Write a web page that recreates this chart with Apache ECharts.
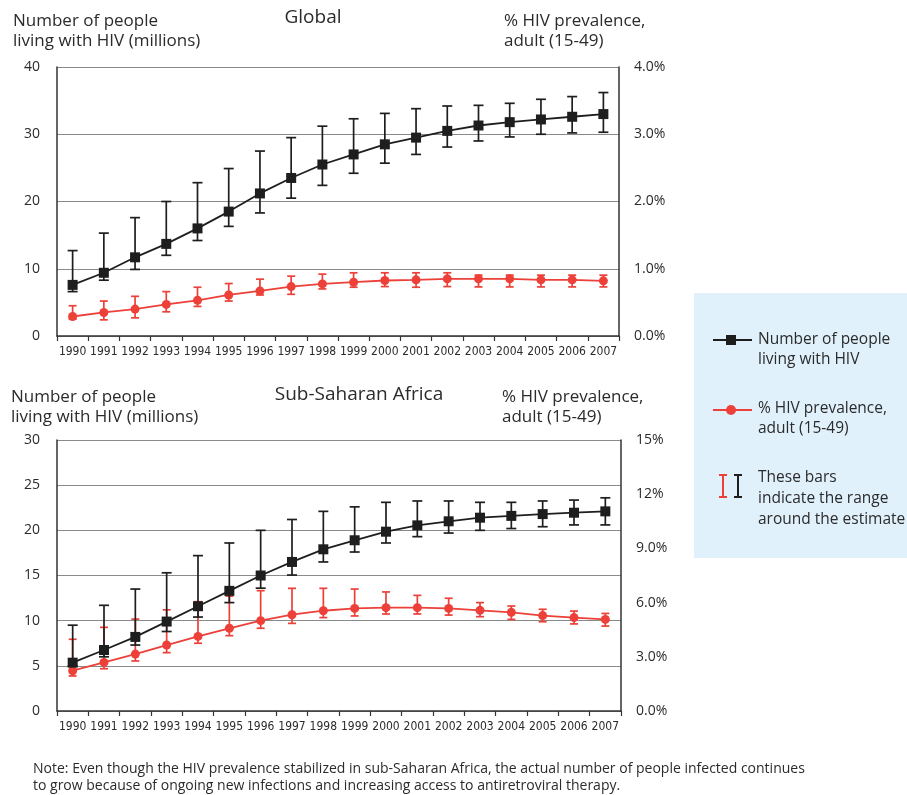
<!DOCTYPE html>
<html>
<head>
<meta charset="utf-8">
<title>People living with HIV 1990-2007</title>
<script src="https://cdn.jsdelivr.net/npm/echarts@6/dist/echarts.min.js"></script>
<style>
  html, body { margin: 0; padding: 0; background: #fff; }
  #chart { width: 907px; height: 795px; }
</style>
</head>
<body>
<div id="chart"></div>
<script>
const years = ['1990', '1991', '1992', '1993', '1994', '1995', '1996', '1997', '1998',
  '1999', '2000', '2001', '2002', '2003', '2004', '2005', '2006', '2007']

// Global: people living with HIV (millions) and range
const globalPeople = [7.6, 9.4, 11.7, 13.7, 16.0, 18.5, 21.2, 23.5, 25.5, 27.0, 28.5, 29.5, 30.5, 31.3, 31.8, 32.2, 32.6, 33.0]
const globalPeopleLow = [6.6, 8.3, 9.9, 12.0, 14.2, 16.3, 18.3, 20.5, 22.4, 24.2, 25.7, 27.0, 28.1, 29.0, 29.6, 30.0, 30.2, 30.3]
const globalPeopleHigh = [12.7, 15.3, 17.6, 20.0, 22.8, 24.9, 27.5, 29.5, 31.2, 32.3, 33.1, 33.8, 34.2, 34.3, 34.6, 35.2, 35.6, 36.2]

// Global: adult prevalence (%) and range
const globalPrev = [0.29, 0.35, 0.40, 0.47, 0.53, 0.61, 0.67, 0.735, 0.775, 0.80, 0.825, 0.835, 0.85, 0.85, 0.85, 0.835, 0.835, 0.82]
const globalPrevLow = [0.25, 0.24, 0.27, 0.36, 0.44, 0.52, 0.61, 0.62, 0.70, 0.725, 0.735, 0.725, 0.735, 0.73, 0.73, 0.73, 0.73, 0.73]
const globalPrevHigh = [0.45, 0.52, 0.59, 0.66, 0.725, 0.78, 0.845, 0.89, 0.92, 0.94, 0.94, 0.94, 0.94, 0.905, 0.905, 0.905, 0.905, 0.905]

// Sub-Saharan Africa: people living with HIV (millions) and range
const ssaPeople = [5.35, 6.75, 8.2, 9.9, 11.6, 13.3, 15.0, 16.5, 17.9, 18.9, 19.85, 20.55, 21.0, 21.4, 21.6, 21.8, 21.95, 22.1]
const ssaPeopleLow = [5.0, 6.0, 7.3, 8.8, 10.4, 12.0, 13.6, 15.05, 16.5, 17.6, 18.6, 19.3, 19.7, 20.0, 20.2, 20.4, 20.6, 20.6]
const ssaPeopleHigh = [9.5, 11.7, 13.5, 15.3, 17.2, 18.6, 20.0, 21.2, 22.1, 22.6, 23.1, 23.25, 23.25, 23.1, 23.1, 23.25, 23.35, 23.6]

// Sub-Saharan Africa: adult prevalence (%) and range
const ssaPrev = [2.23, 2.69, 3.15, 3.65, 4.13, 4.58, 5.0, 5.33, 5.55, 5.68, 5.72, 5.72, 5.68, 5.57, 5.46, 5.28, 5.17, 5.07]
const ssaPrevLow = [1.94, 2.34, 2.77, 3.23, 3.75, 4.17, 4.58, 4.85, 5.17, 5.26, 5.37, 5.37, 5.31, 5.22, 5.07, 4.94, 4.82, 4.7]
const ssaPrevHigh = [3.97, 4.63, 5.09, 5.6, 6.05, 6.36, 6.66, 6.79, 6.79, 6.75, 6.59, 6.4, 6.24, 6.0, 5.81, 5.63, 5.53, 5.4]

const BLACK = '#1e1e1e'
const RED = '#ec4038'
const TEXT = '#2b2b2b'
const FONT = '"Open Sans", "Noto Sans", sans-serif'
const NARROW = '"DejaVu Sans Condensed", sans-serif'

function xAxisFor(gridIndex) {
  return {
    type: 'category',
    gridIndex,
    data: years,
    boundaryGap: true,
    axisLine: { lineStyle: { color: '#333', width: 1.5 } },
    axisTick: { show: true, interval: 0, length: 5, lineStyle: { color: '#333', width: 1.2 } },
    axisLabel: { interval: 0, color: TEXT, fontFamily: NARROW, fontSize: 12, margin: 10 }
  }
}

function leftAxis(gridIndex, max, interval) {
  return {
    type: 'value',
    gridIndex,
    min: 0,
    max,
    interval,
    axisLine: { show: true, lineStyle: { color: '#333', width: 1.5 } },
    axisTick: { show: false },
    axisLabel: { color: TEXT, fontFamily: FONT, fontSize: 14, margin: 17 },
    splitLine: { show: true, lineStyle: { color: '#8a8a8a', width: 1 } }
  }
}

function rightAxis(gridIndex, max, interval) {
  return {
    type: 'value',
    gridIndex,
    position: 'right',
    min: 0,
    max,
    interval,
    axisLine: { show: true, lineStyle: { color: '#333', width: 1.5 } },
    axisTick: { show: false },
    axisLabel: {
      color: TEXT, fontFamily: FONT, fontSize: 14, margin: 15,
      formatter: v => (v >= 10 ? v.toFixed(0) : v.toFixed(1)) + '%'
    },
    splitLine: { show: false }
  }
}

function errorBars(low, high, xAxisIndex, yAxisIndex, color, capHalf) {
  return {
    type: 'custom',
    xAxisIndex,
    yAxisIndex,
    silent: true,
    z: 2,
    data: years.map((y, i) => [i, low[i], high[i]]),
    encode: { x: 0, y: [1, 2] },
    renderItem: (params, api) => {
      const top = api.coord([api.value(0), api.value(2)])
      const bottom = api.coord([api.value(0), api.value(1)])
      const style = { stroke: color, lineWidth: 1.7 }
      return {
        type: 'group',
        children: [
          { type: 'line', shape: { x1: top[0], y1: top[1], x2: bottom[0], y2: bottom[1] }, style },
          { type: 'line', shape: { x1: top[0] - capHalf, y1: top[1], x2: top[0] + capHalf, y2: top[1] }, style },
          { type: 'line', shape: { x1: bottom[0] - capHalf, y1: bottom[1], x2: bottom[0] + capHalf, y2: bottom[1] }, style }
        ]
      }
    }
  }
}

function peopleLine(data, xAxisIndex, yAxisIndex) {
  return {
    name: 'Number of people living with HIV',
    type: 'line',
    xAxisIndex,
    yAxisIndex,
    data,
    symbol: 'rect',
    symbolSize: 10,
    z: 4,
    lineStyle: { color: BLACK, width: 1.8 },
    itemStyle: { color: BLACK }
  }
}

function prevLine(data, xAxisIndex, yAxisIndex) {
  return {
    name: '% HIV prevalence, adult (15-49)',
    type: 'line',
    xAxisIndex,
    yAxisIndex,
    data,
    symbol: 'circle',
    symbolSize: 9,
    z: 3,
    lineStyle: { color: RED, width: 1.8 },
    itemStyle: { color: RED }
  }
}

function label(text, x, y, size, extra) {
  return {
    type: 'text',
    x, y,
    style: Object.assign({
      text, fill: TEXT, font: `${size}px ${FONT}`, lineHeight: 20
    }, extra || {})
  }
}

const chart = echarts.init(document.getElementById('chart'))

chart.setOption({
  animation: false,
  grid: [
    { left: 57, top: 67, width: 562, height: 269 },
    { left: 57, top: 440, width: 564, height: 271 }
  ],
  xAxis: [xAxisFor(0), xAxisFor(1)],
  yAxis: [
    leftAxis(0, 40, 10),
    rightAxis(0, 4, 1),
    leftAxis(1, 30, 5),
    rightAxis(1, 15, 3)
  ],
  series: [
    errorBars(globalPrevLow, globalPrevHigh, 0, 1, RED, 4),
    prevLine(globalPrev, 0, 1),
    errorBars(globalPeopleLow, globalPeopleHigh, 0, 0, BLACK, 5),
    peopleLine(globalPeople, 0, 0),
    errorBars(ssaPrevLow, ssaPrevHigh, 1, 3, RED, 4),
    prevLine(ssaPrev, 1, 3),
    errorBars(ssaPeopleLow, ssaPeopleHigh, 1, 2, BLACK, 5),
    peopleLine(ssaPeople, 1, 2)
  ],
  graphic: [
    // titles
    label('Global', 313, 18, 19, { textAlign: 'center', textVerticalAlign: 'middle' }),
    label('Sub-Saharan Africa', 359, 395, 19, { textAlign: 'center', textVerticalAlign: 'middle' }),
    // axis names
    label('Number of people\nliving with HIV (millions)', 13, 11, 17),
    label('% HIV prevalence,\nadult (15-49)', 504, 11, 17),
    label('Number of people\nliving with HIV (millions)', 11, 387, 17),
    label('% HIV prevalence,\nadult (15-49)', 502, 387, 17),
    // legend box
    {
      type: 'rect',
      shape: { x: 694, y: 293, width: 213, height: 265 },
      style: { fill: '#e0f1fb' },
      z: -1
    },
    { type: 'line', shape: { x1: 713, y1: 340, x2: 752, y2: 340 }, style: { stroke: BLACK, lineWidth: 2 } },
    { type: 'rect', shape: { x: 726, y: 335, width: 10, height: 10 }, style: { fill: BLACK } },
    label('Number of people\nliving with HIV', 758, 330, 15.5),
    { type: 'line', shape: { x1: 713, y1: 410, x2: 752, y2: 410 }, style: { stroke: RED, lineWidth: 2 } },
    { type: 'circle', shape: { cx: 731, cy: 410, r: 5 }, style: { fill: RED } },
    label('% HIV prevalence,\nadult (15-49)', 758, 399, 15.5),
    {
      type: 'group',
      children: [
        { type: 'line', shape: { x1: 723, y1: 475, x2: 723, y2: 497 }, style: { stroke: RED, lineWidth: 2 } },
        { type: 'line', shape: { x1: 719, y1: 475, x2: 727, y2: 475 }, style: { stroke: RED, lineWidth: 2 } },
        { type: 'line', shape: { x1: 719, y1: 497, x2: 727, y2: 497 }, style: { stroke: RED, lineWidth: 2 } },
        { type: 'line', shape: { x1: 738, y1: 475, x2: 738, y2: 497 }, style: { stroke: BLACK, lineWidth: 2 } },
        { type: 'line', shape: { x1: 734, y1: 475, x2: 742, y2: 475 }, style: { stroke: BLACK, lineWidth: 2 } },
        { type: 'line', shape: { x1: 734, y1: 497, x2: 742, y2: 497 }, style: { stroke: BLACK, lineWidth: 2 } }
      ]
    },
    label('These bars\nindicate the range\naround the estimate', 758, 467, 15.5, { lineHeight: 21 }),
    // note
    {
      type: 'text',
      x: 33, y: 761,
      style: {
        text: 'Note: Even though the HIV prevalence stabilized in sub-Saharan Africa, the actual number of people infected continues\nto grow because of ongoing new infections and increasing access to antiretroviral therapy.',
        fill: TEXT,
        font: `14px ${FONT}`,
        lineHeight: 17
      }
    }
  ]
})
</script>
</body>
</html>
